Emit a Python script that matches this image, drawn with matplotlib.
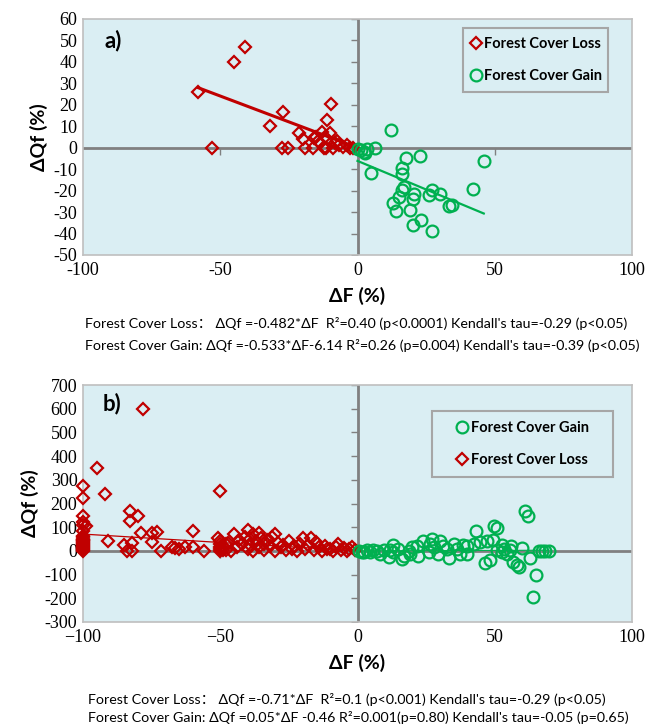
import matplotlib
matplotlib.use('Agg')
import matplotlib.pyplot as plt
from matplotlib.patches import Rectangle
import numpy as np

# ---- datos panel a) ----
loss_a_x = [-58, -53, -45, -41, -32, -27, -27.6, -25.4, -21.4, -19.9, -19.1, -16.3, -15, -13.1,
            -11.9, -11.2, -9.6, -9.9, -12.2, -11.4, -9.1, -8.3, -7.5, -6.8, -5.2, -3.7, -2.9,
            -1.7, -13.7, -16, -14.5]
loss_a_y = [26, 0, 40, 47, 10, 16.5, 0, 0, 6.8, 4, 0, 0, 5, 7.4,
            5, 13, 20.6, 7, 0, 0, 0, 2, 3, 1.5, 0.5, 1.5, 0,
            0, 2, 4.5, 3]
gain_a_x = [12.3, 6.2, 2.3, 2.9, 1.1, 3.5, 5.1, 17.7, 22.6, 46, 16.3, 16.3, 16.9, 16.3, 15.1,
            13, 14.1, 20.5, 20.3, 19.3, 20.3, 23.3, 27.2, 26, 27.2, 30.2, 33.3, 34.5, 42.1, 0.3]
gain_a_y = [8.3, 0, -1.9, -2.6, -1, -0.8, -12, -4.7, -3.9, -6.2, -9.6, -12.3, -18.2, -19.7, -23.1,
            -25.6, -29.4, -21.7, -24.1, -29, -36, -33.7, -38.7, -22, -19.7, -21.7, -27.2, -26.7, -19.3, -0.5]
fit_loss_a = (-0.482, 0.0)      # pendiente, ordenada
fit_gain_a = (-0.533, -6.14)
yticks_a = [-50, -40, -30, -20, -10, 0, 10, 20, 30, 40, 50, 60]
ylabels_a = ['-50', '-40', '-30', '-20', '-10', '0', '10', '20', '30', '40', '50', '60']
xticks = [-100, -50, 0, 50, 100]
xlabels_a = ['-100', '-50', '0', '50', '100']

# ---- datos panel b) ----
loss_b_x = [-100, -100, -100, -100, -100, -100, -100, -100, -100, -100, -100, -100, -100, -100,
            -100, -100, -100, -99, -100, -100, -100, -100, -100, -95, -92, -91, -85, -84, -83,
            -83, -82, -82, -80, -79, -78, -75, -75, -73, -71.5, -67.6, -66.4, -65, -63, -60,
            -60, -56, -50.7, -50, -50, -50, -50, -50, -50, -49, -49, -48, -48, -47, -46, -45,
            -44, -43, -42, -41, -40, -40, -39, -39, -38, -38, -37, -36, -36, -35, -34, -34,
            -33, -32, -31, -30, -30, -29, -28, -27, -26, -25, -24, -23, -22, -21, -20, -19,
            -18, -17, -16, -15, -14, -13, -12, -11, -10, -9, -8, -7, -6, -5, -4, -3, -2, -1]
loss_b_y = [0, 4, 8, 12, 16, 20, 24, 28, 32, 36, 40, 44, 48, 52,
            57, 62, 84, 103, 110, 120, 149, 225, 272, 350, 241, 43, 25, 0, 170,
            127, 0, 32, 148, 74, 600, 74, 39, 81, 0, 18, 14, 8, 18, 86,
            18, 0, 53, 251, 29, 10, 0, 15, 40, 20, 5, 5, 30, 35, 0, 71,
            15, 45, 30, 60, 88, 10, 50, 25, 70, 0, 40, 74, 15, 55, 30, 5,
            45, 20, 60, 73, 0, 35, 15, 25, 5, 40, 10, 20, 0, 30, 53, 10,
            25, 53, 5, 39, 15, 0, 20, 8, 10, 0, 15, 29, 5, 12, 0, 8, 18, 3]
gain_b_x = [61.1, 62.1, 49.9, 50.9, 43.1, 63.9, 65, 62.9, 46.3, 48.1, 56.8, 58, 59, 60.1, 56.1,
            52.6, 49.3, 47.1, 44.7, 42.3, 39.8, 39.8, 35, 33.2, 30.1, 27.1, 24, 27.7, 29.5,
            25.9, 22.2, 19.8, 16.1, 16.8, 13.1, 11.3, 8.3, 5.8, 3.4, 1.6, 9.5, 14.9, 18.6,
            32.5, 36.2, 38.6, 52.6, 54.4, 55.6, 66, 67.2, 68.4, 69.6, 4.6, 7, 21.6, 26.5,
            31.3, 37.4, 13.1, 19.2, 11.9, 50.8, 53.2, 0.5, 2.5]
gain_b_y = [167, 146, 105, 97, 84, -194, -103, -30, -53, -39, -46, -58, -68, 14, 21,
            27, 45, 41, 38, 31, 21, -15, 31, -30, 41, 49, 41, 17, -15,
            -4, -21, 17, -35, -21, 27, -25, -15, 3, 3, -4, 3, 10, 0,
            10, 10, 24, -4, -11, 3, 0, 0, 0, 0, -4, 0, 21, 31,
            21, -15, -4, -15, 3, 3, 10, 0, -3]
fit_loss_b = (-0.71, 0.0)
fit_gain_b = (0.05, -0.46)
yticks_b = [-300, -200, -100, 0, 100, 200, 300, 400, 500, 600, 700]
ylabels_b = ['-300', '-200', '-100', '0', '100', '200', '300', '400', '500', '600', '700']
xlabels_b = ['\u2212100', '\u221250', '0', '50', '100']

# textos
eq_a = ["Forest Cover Loss\uff1a ΔQf =-0.482*ΔF  R²=0.40 (p<0.0001) Kendall's tau=-0.29 (p<0.05)",
        "Forest Cover Gain: ΔQf =-0.533*ΔF-6.14 R²=0.26 (p=0.004) Kendall's tau=-0.39 (p<0.05)"]
eq_b = ["Forest Cover Loss\uff1a ΔQf =-0.71*ΔF  R²=0.1 (p<0.001) Kendall's tau=-0.29 (p<0.05)",
        "Forest Cover Gain: ΔQf =0.05*ΔF -0.46 R²=0.001(p=0.80) Kendall's tau=-0.05 (p=0.65)"]

RED = '#C00000'
GREEN = '#00B050'
BG = '#DAEEF3'
SANS = ['Lato', 'Noto Sans CJK SC', 'DejaVu Sans']

W, H = 661, 727
fig = plt.figure(figsize=(W / 100, H / 100), dpi=100)


def px_axes(x0, x1, y0, y1):
    # caja del eje en pixeles de la imagen
    return fig.add_axes([x0 / W, 1 - y1 / H, (x1 - x0) / W, (y1 - y0) / H])


def dibujar_panel(ax, lx, ly, gx, gy, fl, fg, yticks, ylabels, xlabels, letra, lw_fit):
    ax.set_facecolor(BG)
    ax.set_xlim(-100, 100)
    ax.set_ylim(yticks[0], yticks[-1])
    ax.set_xticks(xticks, xlabels, family='Liberation Serif', fontsize=13)
    ax.set_yticks(yticks, ylabels, family='Liberation Serif', fontsize=13)
    ax.tick_params(length=0)
    ax.tick_params(axis='x', pad=5)
    ax.tick_params(axis='y', pad=4)
    for s in ax.spines.values():
        s.set_color('#BFBFBF')
        s.set_linewidth(1.2)

    # ejes en cero con sus marcas
    ax.axhline(0, color='#808080', lw=2, zorder=1)
    ax.axvline(0, color='#808080', lw=2, zorder=1)
    ax.plot(np.zeros(len(yticks)), yticks, ls='none', marker=0, ms=5, mew=1, color='#808080', zorder=1)
    ax.plot([-50, 50], [0, 0], ls='none', marker=3, ms=5, mew=1, color='#808080', zorder=1)

    # rectas de ajuste
    xl = np.array([min(lx), 0])
    ax.plot(xl, fl[0] * xl + fl[1], color=RED, lw=lw_fit[0], zorder=2)
    xg = np.array([0, max(gx)])
    ax.plot(xg, fg[0] * xg + fg[1], color=GREEN, lw=lw_fit[1], zorder=2)

    h_loss, = ax.plot(lx, ly, ls='none', marker='D', ms=6.5, mfc='none', mec=RED, mew=1.6,
                      label='Forest Cover Loss', zorder=3, clip_on=False)
    h_gain, = ax.plot(gx, gy, ls='none', marker='o', ms=8.5, mfc='none', mec=GREEN, mew=1.6,
                      label='Forest Cover Gain', zorder=3, clip_on=False)

    ax.text(letra[1], letra[2], letra[0], transform=ax.transAxes, fontsize=16, fontweight='bold',
            family=SANS, va='center', ha='left')
    ax.set_xlabel('ΔF (%)', fontsize=14, fontweight='bold', family=SANS, labelpad=6)
    ax.set_ylabel('ΔQf (%)', fontsize=14, fontweight='bold', family=SANS, labelpad=4)
    return h_loss, h_gain


def leyenda(ax, handles, labels, caja, x_marca, y_centro, espacio):
    # marco dibujado aparte para controlar el tamaño exacto
    x0, y0, x1, y1 = caja
    ax.add_patch(Rectangle((x0, y0), x1 - x0, y1 - y0, transform=ax.transAxes, facecolor=BG,
                           edgecolor='#A6A6A6', lw=1.5, zorder=2.5))
    leg = ax.legend(handles, labels, loc='center left', bbox_to_anchor=(x_marca, y_centro),
                    frameon=False, borderpad=0, borderaxespad=0, handlelength=0.6,
                    handletextpad=0.3, labelspacing=espacio,
                    prop={'family': SANS, 'weight': 'bold', 'size': 10.5})
    leg.set_zorder(5)


ax1 = px_axes(83, 632, 19, 255)
hl, hg = dibujar_panel(ax1, loss_a_x, loss_a_y, gain_a_x, gain_a_y, fit_loss_a, fit_gain_a,
                       yticks_a, ylabels_a, xlabels_a, ('a)', 0.04, 0.91), (2.2, 1.6))
leyenda(ax1, [hl, hg], ['Forest Cover Loss', 'Forest Cover Gain'],
        (0.692, 0.691, 0.956, 0.962), 0.707, 0.826, 1.25)

ax2 = px_axes(83, 632, 385, 622)
hl, hg = dibujar_panel(ax2, loss_b_x, loss_b_y, gain_b_x, gain_b_y, fit_loss_b, fit_gain_b,
                       yticks_b, ylabels_b, xlabels_b, ('b)', 0.036, 0.924), (0.9, 0.8))
leyenda(ax2, [hg, hl], ['Forest Cover Gain', 'Forest Cover Loss'],
        (0.636, 0.612, 0.965, 0.890), 0.683, 0.751, 1.25)

# ecuaciones debajo de cada panel
for txt, y in zip(eq_a, [324, 345]):
    fig.text(85 / W, 1 - y / H, txt, fontsize=10.3, family=SANS, va='center', ha='left')
for txt, y in zip(eq_b, [700, 718]):
    fig.text(88 / W, 1 - y / H, txt, fontsize=10.3, family=SANS, va='center', ha='left')

plt.savefig('out.png', dpi=100)
